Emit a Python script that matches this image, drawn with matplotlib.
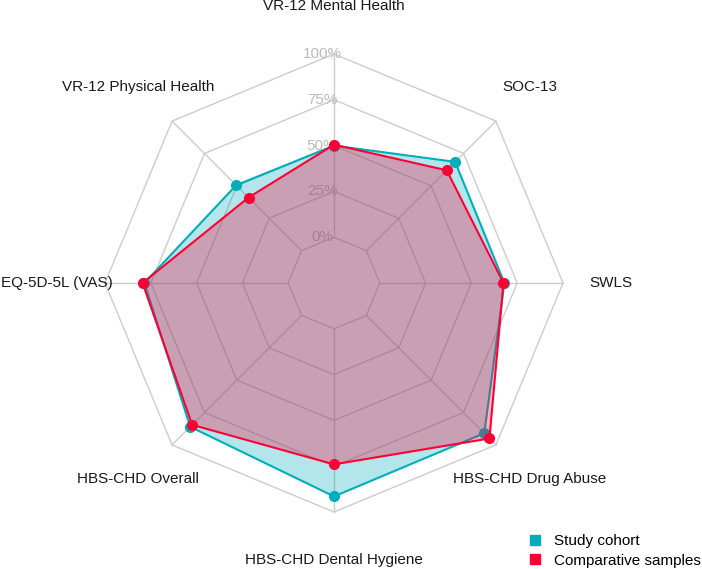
import numpy as np
import matplotlib
matplotlib.use("Agg")
import matplotlib.pyplot as plt
from matplotlib.lines import Line2D

plt.rcParams['font.family'] = ['Liberation Sans', 'DejaVu Sans']

# axes, clockwise from the top
axis_labels = ["VR-12 Mental Health", "SOC-13", "SWLS", "HBS-CHD Drug Abuse",
               "HBS-CHD Dental Hygiene", "HBS-CHD Overall", "EQ-5D-5L (VAS)",
               "VR-12 Physical Health"]
study_cohort = [50.0, 68.5, 68.0, 91.0, 91.5, 86.0, 78.5, 50.5]
comparative = [50.5, 62.0, 67.5, 95.0, 74.0, 84.5, 79.5, 41.0]
grid_values = [0, 25, 50, 75, 100]
grid_labels = ["0%", "25%", "50%", "75%", "100%"]
series_names = ["Study cohort", "Comparative samples"]

teal = "#00AEBB"
red = "#FF0036"
offset = 25  # centre of the plot sits at -25%

n = len(axis_labels)
angles = np.pi / 2 - np.arange(n) * 2 * np.pi / n


def to_xy(vals):
    r = np.asarray(vals, dtype=float) + offset
    x = r * np.cos(angles)
    y = r * np.sin(angles)
    return np.append(x, x[0]), np.append(y, y[0])


fig = plt.figure(figsize=(7.02, 5.69), dpi=100)
ax = fig.add_axes([0, 0, 1, 1])
scale = 45.8 / 25  # pixels per percent
cx, cy = 334, 283
ax.set_xlim(-cx / scale, (702 - cx) / scale)
ax.set_ylim(-(569 - cy) / scale, cy / scale)
ax.axis('off')

# grid octagons and spokes
for g in grid_values:
    gx, gy = to_xy([g] * n)
    ax.plot(gx, gy, color="#CCCCCC", lw=1, zorder=1)
inner_x, inner_y = to_xy([grid_values[0]] * n)
outer_x, outer_y = to_xy([grid_values[-1]] * n)
for i in range(n):
    ax.plot([inner_x[i], outer_x[i]], [inner_y[i], outer_y[i]], color="#CCCCCC", lw=1, zorder=1)

# radial labels on the top axis (under the fills)
for g, lab in zip(grid_values, grid_labels):
    ax.text(-12 / scale, g + offset, lab, color="#BBBBBB", fontsize=11,
            ha='center', va='center', zorder=1.5)

# series
for vals, col in [(study_cohort, teal), (comparative, red)]:
    px, py = to_xy(vals)
    ax.fill(px, py, color=col, alpha=0.3, lw=0, zorder=2)
    ax.plot(px, py, color=col, lw=1.5, zorder=2)
    ax.plot(px[:-1], py[:-1], 'o', color=col, ms=7, zorder=2)

# axis labels
lab_r = 151
for a, lab in zip(angles, axis_labels):
    ax.text(lab_r * np.cos(a), lab_r * np.sin(a), lab,
            fontsize=11, color="#1A1A1A", ha='center', va='center')

handles = [Line2D([], [], marker='s', ls='', color=c, ms=7) for c in (teal, red)]
ax.legend(handles, series_names, loc='lower right', bbox_to_anchor=(1.007, -0.0085),
          frameon=False, fontsize=11, handletextpad=0.75, labelspacing=0.35,
          borderaxespad=0.0, handlelength=1.0)

fig.savefig("out.png", dpi=100)
